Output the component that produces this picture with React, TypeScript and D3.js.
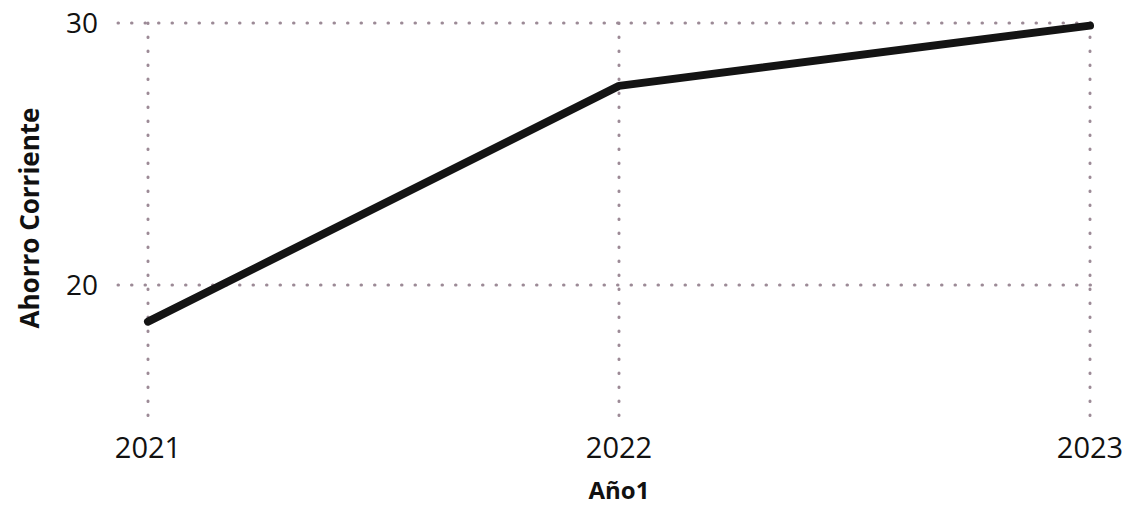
import React from "react";
import * as d3 from "d3";

const years = ["2021", "2022", "2023"];
const ahorro = [18.6, 27.6, 29.9];
const yTicks = [20, 30];

const W = 1133;
const H = 508;
const FONT = "'Open Sans', 'Noto Sans', sans-serif";

export default function App() {
  const x = d3.scalePoint<string>().domain(years).range([148, 1090]);
  const y = d3.scaleLinear().domain([20, 30]).range([285, 23]);
  const yBottom = 420;
  const gridLeft = 118;
  const gridRight = 1102;

  const line = d3
    .line<number>()
    .x((_, i) => x(years[i]) as number)
    .y((d) => y(d));

  const gridColor = "#9c8a96";

  return (
    <svg width={W} height={H} style={{ position: "absolute", left: 0, top: 0, background: "#fff" }}>
      <rect width={W} height={H} fill="#fff" />
      {yTicks.map((t) => (
        <g key={t}>
          <line
            x1={gridLeft}
            x2={gridRight}
            y1={y(t)}
            y2={y(t)}
            stroke={gridColor}
            strokeWidth={3}
            strokeDasharray="0.5 13"
            strokeLinecap="round"
          />
          <text
            x={98}
            y={y(t)}
            dy="0.35em"
            textAnchor="end"
            fontFamily={FONT}
            fontSize={28}
            fontWeight={500}
            fill="#111"
          >
            {t}
          </text>
        </g>
      ))}
      {years.map((yr) => (
        <g key={yr}>
          <line
            x1={x(yr)}
            x2={x(yr)}
            y1={y(30)}
            y2={yBottom}
            stroke={gridColor}
            strokeWidth={3}
            strokeDasharray="0.5 13.5"
            strokeLinecap="round"
          />
          <text
            x={x(yr)}
            y={458}
            textAnchor="middle"
            fontFamily={FONT}
            fontSize={29}
            fontWeight={500}
            fill="#111"
          >
            {yr}
          </text>
        </g>
      ))}
      <path
        d={line(ahorro) || ""}
        fill="none"
        stroke="#141414"
        strokeWidth={8}
        strokeLinecap="round"
        strokeLinejoin="round"
      />
      <text
        x={619}
        y={499}
        textAnchor="middle"
        fontFamily={FONT}
        fontSize={24}
        fontWeight="bold"
        fill="#111"
      >
        Año1
      </text>
      <text
        transform={`translate(39, 218) rotate(-90)`}
        textAnchor="middle"
        fontFamily={FONT}
        fontSize={26}
        fontWeight="bold"
        fill="#111"
      >
        Ahorro Corriente
      </text>
    </svg>
  );
}
